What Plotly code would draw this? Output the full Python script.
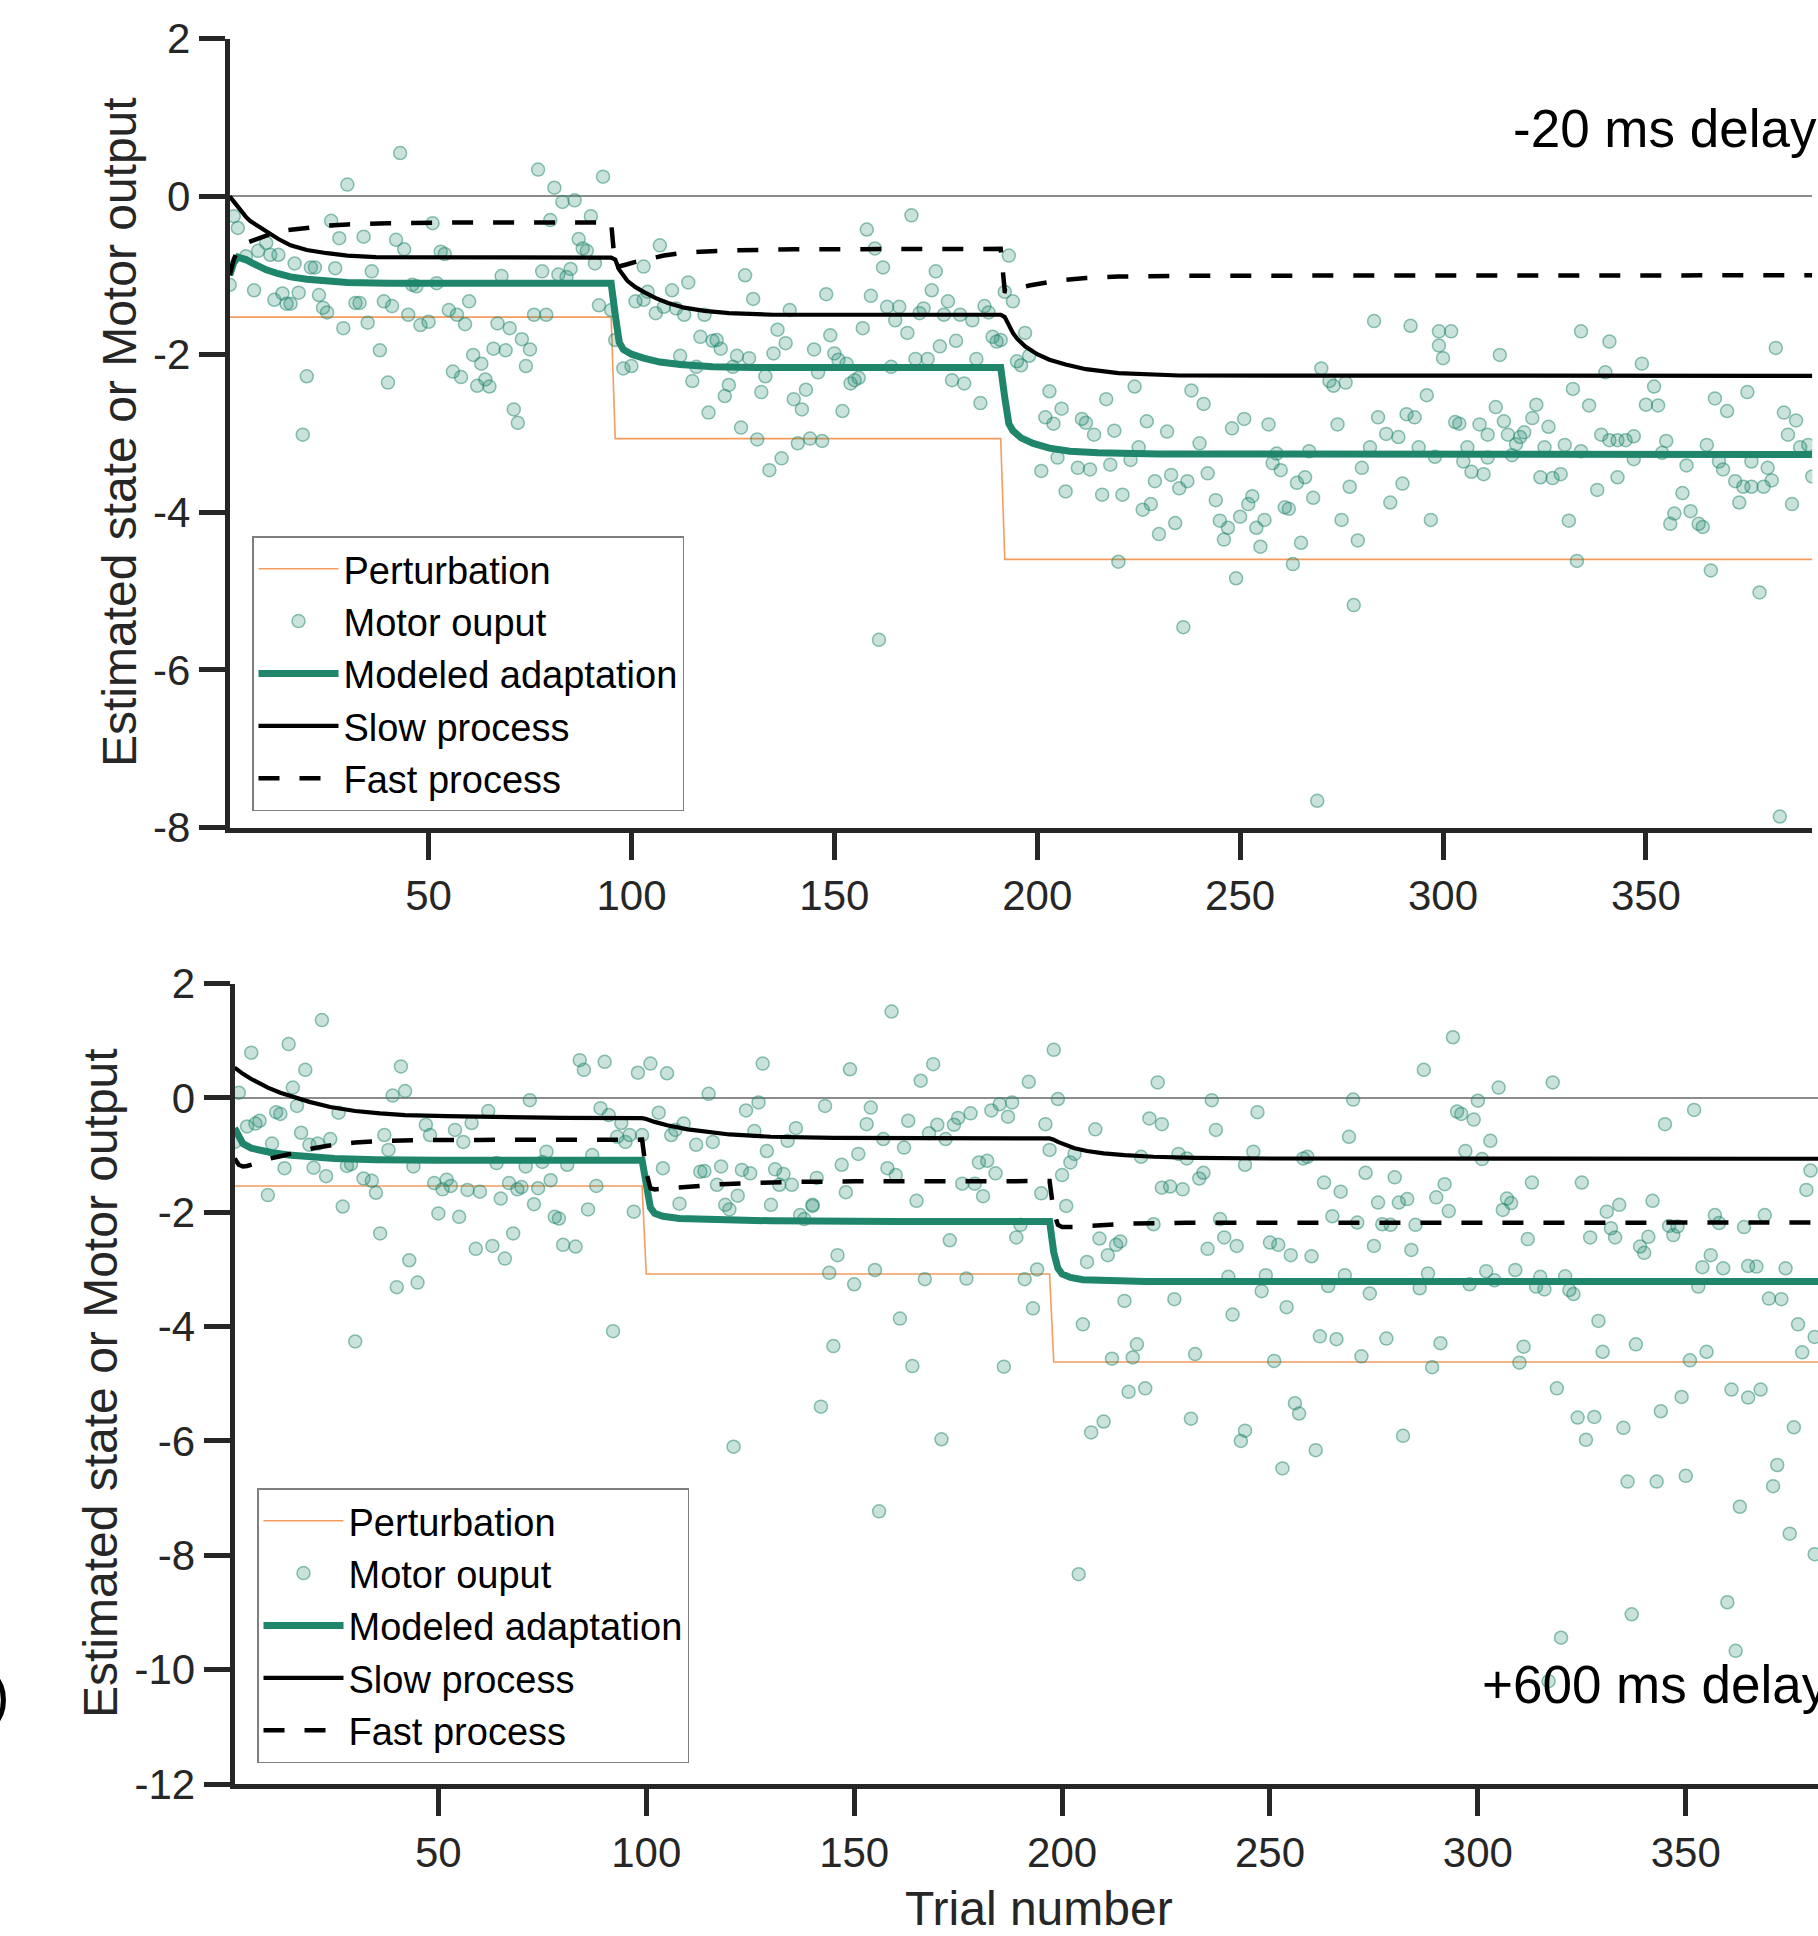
import plotly.graph_objects as go

W, H = 1818, 1936

# ---------------- TOP PANEL (-20 ms delay) ----------------
TOP_PERT_T = [1, 95, 96, 191, 192, 391]
TOP_PERT_V = [-1.53, -1.53, -3.07, -3.07, -4.6, -4.6]

TOP_SLOW_T = [1, 2, 3, 4, 5, 6, 8, 10, 13, 16, 20, 25, 30, 37, 60, 95,
              96, 97, 99, 101, 103, 106, 109, 113, 118, 124, 135, 191,
              192, 193, 194, 195, 197, 200, 203, 207, 212, 220, 235, 391]
TOP_SLOW_V = [0.0, -0.07, -0.14, -0.2, -0.26, -0.31, -0.38, -0.44, -0.54, -0.62, -0.68, -0.72, -0.75, -0.77, -0.775, -0.775,
              -0.8, -0.93, -1.07, -1.15, -1.21, -1.29, -1.35, -1.41, -1.45, -1.48, -1.5, -1.5,
              -1.53, -1.63, -1.73, -1.8, -1.9, -2.0, -2.07, -2.13, -2.19, -2.24, -2.27, -2.275]

TOP_FAST_T = [1, 2, 3, 4, 5, 6, 8, 11, 15, 20, 25, 30, 40, 60, 95,
              96, 97, 99, 101, 104, 108, 112, 117, 125, 140, 191,
              192, 193, 195, 198, 202, 206, 212, 220, 240, 391]
TOP_FAST_V = [-1.0, -0.8, -0.68, -0.62, -0.59, -0.57, -0.53, -0.48, -0.43, -0.4, -0.37, -0.355, -0.34, -0.33, -0.33,
              -0.9, -0.89, -0.86, -0.83, -0.79, -0.75, -0.72, -0.7, -0.685, -0.67, -0.665,
              -1.2, -1.21, -1.17, -1.13, -1.09, -1.06, -1.035, -1.015, -1.005, -1.0]

TOP_ADAPT_T = [1, 2, 3, 4, 5, 6, 8, 10, 13, 16, 20, 25, 30, 40, 95,
               96, 97, 98, 100, 103, 107, 112, 120, 130, 191,
               192, 193, 194, 196, 199, 203, 208, 215, 230, 391]
TOP_ADAPT_V = [-1.0, -0.84, -0.77, -0.78, -0.8, -0.83, -0.88, -0.93, -0.98, -1.02, -1.05, -1.07, -1.09, -1.1, -1.1,
               -1.5, -1.85, -1.94, -2.0, -2.05, -2.1, -2.13, -2.16, -2.17, -2.17,
               -2.55, -2.88, -2.97, -3.06, -3.13, -3.19, -3.23, -3.25, -3.265, -3.27]

TOP_MOTOR = [
    (43, 0.55), (30, 0.15), (77, 0.34), (81, 0.11), (83, -0.07), (86, -0.05), (93, 0.25), (90, -0.25), (80, -0.30),
    (51, -0.34), (26, -0.31), (87, -0.54), (88, -0.66), (89, -0.69), (91, -0.85), (85, -0.92), (82, -0.99), (84, -1.02),
    (78, -0.95), (68, -1.01), (53, -0.70), (54, -0.73), (42, -0.55), (44, -0.67), (34, -0.51), (28, -0.53), (2, -0.25),
    (3, -0.40), (1, -1.12), (5, -0.76), (8, -0.69), (10, -0.59), (11, -0.74), (13, -0.74), (17, -0.85), (21, -0.90),
    (22, -0.90), (27, -0.91), (7, -1.19), (12, -1.31), (14, -1.23), (15, -1.36), (16, -1.36), (18, -1.22), (23, -1.25),
    (24, -1.41), (25, -1.47), (29, -1.67), (32, -1.35), (33, -1.35), (35, -1.60), (36, -0.95), (39, -1.33), (41, -1.39),
    (45, -1.50), (46, -1.12), (47, -1.14), (48, -1.63), (50, -1.59), (52, -1.10), (55, -1.44), (57, -1.50), (59, -1.62),
    (60, -1.33), (67, -1.61), (70, -1.67), (73, -1.81), (75, -1.94), (76, -1.50), (79, -1.50), (38, -1.95), (20, -2.28),
    (40, -2.36), (61, -2.01), (63, -2.12), (66, -1.93), (69, -1.95), (56, -2.22), (58, -2.29), (62, -2.40), (64, -2.32),
    (65, -2.41), (74, -2.15), (71, -2.70), (72, -2.87), (19, -3.02), (92, -1.38), (95, -1.44), (96, -1.82), (98, -2.18),
    (100, -2.15), (101, -1.33), (103, -1.31), (103, -0.89),
    (107, -0.62), (114, -1.09), (128, -1.00), (130, -1.30), (148, -1.24), (158, -0.42), (169, -0.24), (160, -0.66),
    (162, -0.90), (159, -1.26), (175, -0.95), (174, -1.19), (178, -1.33), (193, -0.75), (192, -1.21), (194, -1.33),
    (197, -1.73), (195, -2.09), (196, -2.14), (104, -1.21), (106, -1.48), (108, -1.40), (110, -1.19), (111, -1.42),
    (113, -1.50), (118, -1.50), (117, -1.78), (115, -2.34), (119, -2.74), (120, -1.83), (121, -1.82), (122, -1.93),
    (124, -2.39), (123, -2.53), (126, -2.02), (129, -2.05), (125, -2.16), (133, -2.28), (132, -2.48), (127, -2.93),
    (131, -3.08), (135, -1.99), (136, -1.69), (138, -1.86), (139, -1.44), (140, -2.57), (142, -2.70), (143, -2.45),
    (141, -3.13), (144, -3.07), (147, -3.10), (145, -1.94), (146, -2.23), (149, -1.76), (150, -1.99), (151, -2.07),
    (153, -2.12), (152, -2.72), (154, -2.37), (155, -2.33), (156, -2.30), (157, -1.67), (163, -1.40), (165, -1.57),
    (166, -1.40), (168, -1.73), (170, -2.06), (173, -2.06), (171, -1.48), (172, -1.42), (176, -1.90), (177, -1.50),
    (181, -1.50), (179, -2.33), (182, -2.37), (180, -1.83), (184, -1.57), (185, -2.06), (186, -2.62), (187, -1.39),
    (188, -1.47), (189, -1.78), (190, -1.84), (191, -1.82), (164, -2.16), (116, -2.16), (112, -2.02),
    (134, -3.47), (137, -3.32), (161, -5.62),
    (198, -2.02), (283, -1.58), (292, -1.64), (299, -1.71), (302, -1.71), (299, -1.89), (300, -2.05), (314, -2.01),
    (334, -1.71), (341, -1.84), (349, -2.12), (340, -2.23), (382, -1.92), (270, -2.18), (272, -2.34), (273, -2.40),
    (276, -2.36), (203, -2.47), (332, -2.44), (352, -2.41), (296, -2.52), (367, -2.56), (375, -2.48),
    (206, -2.69), (202, -2.80), (204, -2.88), (211, -2.82), (212, -2.87), (214, -3.02), (217, -2.57), (219, -2.97),
    (224, -2.41), (227, -2.85), (232, -2.98), (238, -2.46), (241, -2.63), (240, -3.13), (248, -2.94), (251, -2.82),
    (257, -2.89), (259, -3.26), (267, -3.23), (274, -2.89), (282, -3.18), (284, -2.80), (286, -3.01), (289, -3.05),
    (291, -2.76), (293, -2.80), (294, -3.18), (298, -3.30), (303, -2.86), (304, -2.88), (306, -3.18), (309, -2.89),
    (311, -3.02), (313, -2.67), (315, -2.85), (316, -3.02), (318, -3.14), (319, -3.05), (320, -2.99), (322, -2.81),
    (323, -2.64), (325, -3.18), (326, -2.92), (330, -3.15), (334, -3.23), (336, -2.65), (339, -3.02), (341, -3.09),
    (343, -3.09), (345, -3.09), (347, -3.04), (350, -2.64), (353, -2.65), (354, -3.25), (355, -3.10), (360, -3.41),
    (365, -3.15), (370, -2.72), (376, -3.36), (380, -3.44), (384, -2.74), (385, -3.02), (387, -2.84), (388, -3.18),
    (390, -3.15),
    (201, -3.48), (205, -3.31), (210, -3.44), (213, -3.46), (207, -3.74), (216, -3.78), (221, -3.78), (218, -3.40),
    (223, -3.34), (225, -3.18), (226, -3.97), (228, -3.90), (230, -4.28), (229, -3.61), (233, -3.53), (234, -4.14),
    (235, -3.70), (237, -3.61), (220, -4.63), (236, -5.46), (242, -3.51), (244, -3.85), (245, -4.11), (247, -4.20),
    (246, -4.35), (250, -4.06), (249, -4.84), (252, -3.90), (253, -3.80), (254, -4.20), (256, -4.10), (255, -4.44),
    (258, -3.38), (260, -3.47), (261, -3.94), (262, -3.96), (264, -3.63), (266, -3.56), (265, -4.39), (263, -4.66),
    (268, -3.82), (277, -3.68), (279, -4.36), (275, -4.10), (278, -5.18), (269, -7.66), (280, -3.44), (287, -3.88),
    (290, -3.64), (297, -4.10), (307, -3.49), (310, -3.52), (311, -3.31), (305, -3.36), (317, -3.28), (324, -3.56),
    (327, -3.57), (329, -3.52), (331, -4.11), (333, -4.62), (338, -3.72), (343, -3.56), (347, -3.33), (356, -4.15),
    (357, -4.02), (361, -3.99), (363, -4.15), (364, -4.19), (359, -3.76), (366, -4.74), (368, -3.36), (369, -3.46),
    (372, -3.61), (374, -3.68), (376, -3.68), (379, -3.68), (373, -3.88), (378, -5.02), (381, -3.60), (386, -3.90),
    (391, -3.55), (383, -7.86),
]

# ---------------- BOTTOM PANEL (+600 ms delay) ----------------
BOT_PERT_T = [1, 99, 100, 197, 198, 395]
BOT_PERT_V = [-1.54, -1.54, -3.08, -3.08, -4.62, -4.62]

BOT_SLOW_T = [1, 2, 3, 5, 7, 9, 12, 15, 19, 24, 30, 36, 42, 52, 65, 80, 99,
              100, 102, 105, 110, 115, 120, 130, 145, 197,
              198, 199, 201, 203, 206, 210, 215, 222, 232, 250, 395]
BOT_SLOW_V = [0.53, 0.47, 0.42, 0.33, 0.25, 0.18, 0.09, 0.02, -0.07, -0.16, -0.23, -0.27, -0.3, -0.32, -0.34, -0.35, -0.355,
              -0.37, -0.42, -0.48, -0.55, -0.6, -0.64, -0.68, -0.7, -0.71,
              -0.73, -0.77, -0.83, -0.88, -0.93, -0.97, -1.0, -1.03, -1.05, -1.06, -1.065]

BOT_FAST_T = [1, 2, 3, 4, 6, 9, 12, 15, 20, 25, 30, 36, 45, 60, 99,
              100, 101, 102, 104, 108, 113, 118, 125, 135, 150, 197,
              198, 199, 200, 203, 206, 210, 216, 230, 395]
BOT_FAST_V = [-1.06, -1.17, -1.2, -1.19, -1.15, -1.07, -1.02, -0.97, -0.88, -0.82, -0.78, -0.755, -0.74, -0.735, -0.73,
              -1.3, -1.58, -1.6, -1.59, -1.56, -1.53, -1.51, -1.49, -1.47, -1.46, -1.455,
              -2.0, -2.22, -2.26, -2.26, -2.24, -2.22, -2.2, -2.185, -2.18]

BOT_ADAPT_T = [1, 2, 3, 5, 7, 10, 14, 20, 25, 35, 50, 99,
               100, 101, 102, 104, 108, 115, 130, 160, 197,
               198, 199, 200, 202, 205, 210, 220, 395]
BOT_ADAPT_V = [-0.53, -0.7, -0.8, -0.88, -0.92, -0.96, -1.0, -1.04, -1.06, -1.08, -1.09, -1.09,
               -1.6, -1.92, -2.02, -2.07, -2.11, -2.13, -2.15, -2.16, -2.16,
               -2.7, -2.98, -3.08, -3.14, -3.18, -3.2, -3.21, -3.21]

BOT_MOTOR = [
    (22, 1.36), (5, 0.79), (14, 0.94), (18, 0.49), (15, 0.18), (41, 0.55), (39, 0.04), (42, 0.12), (2, 0.09),
    (4, -0.50), (6, -0.45), (7, -0.40), (1, -0.77), (10, -0.80), (11, -0.25), (12, -0.28), (16, -0.14), (13, -1.23),
    (17, -0.61), (19, -0.82), (21, -0.80), (20, -1.22), (23, -1.37), (24, -0.72), (26, -0.26), (27, -1.90), (9, -1.70),
    (28, -1.19), (29, -1.16), (32, -1.41), (34, -1.45), (35, -1.66), (37, -0.65), (38, -0.91), (36, -2.37), (43, -2.84),
    (40, -3.31), (45, -3.23), (30, -4.26), (44, -1.20), (47, -0.47), (48, -0.65), (49, -1.49), (52, -1.43), (51, -1.60),
    (53, -1.54), (54, -0.56), (56, -0.77), (58, -0.44), (50, -2.02), (55, -2.08), (57, -1.61), (60, -1.64), (59, -2.64),
    (63, -2.59), (62, -0.23), (64, -1.14), (66, -2.81), (65, -1.76), (67, -1.49), (69, -1.60), (70, -1.56), (68, -2.37),
    (72, -0.04), (71, -1.20), (73, -1.86), (74, -1.58), (76, -0.94), (75, -1.12), (77, -1.44), (78, -2.08), (79, -2.11),
    (80, -2.57), (83, -2.60), (81, -1.17), (84, 0.66), (85, 0.49), (86, -1.95), (87, -1.00), (88, -1.54), (89, -0.18),
    (91, -0.30), (90, 0.63), (92, -4.08), (94, -0.44), (93, -0.68), (95, -0.77), (96, -0.65), (97, -1.99), (98, 0.44),
    (101, 0.60), (105, 0.43), (99, -0.65), (103, -0.26), (104, -1.23), (106, -0.65), (107, -0.56), (109, -0.45),
    (108, -1.85), (112, -0.82), (113, -1.29),
    (159, 1.51), (198, 0.84), (223, 0.27), (128, 0.60), (149, 0.50), (169, 0.59), (166, 0.30), (192, 0.28), (115, 0.07),
    (127, -0.08), (124, -0.22), (143, -0.14), (154, -0.17), (183, -0.22), (185, -0.11), (188, -0.08), (199, -0.02),
    (236, -0.04), (178, -0.27), (175, -0.35), (187, -0.33), (196, -0.46), (163, -0.40), (153, -0.46), (170, -0.47),
    (168, -0.62), (174, -0.47), (208, -0.55), (221, -0.36), (224, -0.46), (237, -0.56), (126, -0.58), (136, -0.53),
    (134, -0.75), (116, -0.77), (129, -0.93), (151, -0.98), (162, -0.87), (157, -0.72), (172, -0.72), (197, -0.91),
    (203, -0.98), (202, -1.13), (200, -1.35), (219, -1.03), (228, -0.98), (230, -1.06), (244, -1.17), (114, -1.28),
    (118, -1.20), (123, -1.26), (125, -1.32), (131, -1.25), (133, -1.33), (135, -1.52), (132, -1.52), (141, -1.40),
    (147, -1.17), (158, -1.23), (160, -1.35), (176, -1.50), (179, -1.50), (180, -1.13), (182, -1.10), (184, -1.32),
    (117, -1.52), (122, -1.71), (148, -1.65), (165, -1.80), (181, -1.72), (195, -1.67), (201, -1.89), (224, -1.57),
    (226, -1.55), (229, -1.60), (233, -1.41), (234, -1.31), (222, -2.21), (119, -1.87), (120, -1.95), (130, -1.87),
    (137, -2.05), (138, -2.12), (140, -1.87), (140, -1.89), (238, -2.12), (239, -2.44), (242, -2.59), (190, -2.22),
    (189, -2.44), (173, -2.49), (209, -2.46), (211, -2.75), (213, -2.57), (214, -2.51), (206, -2.87), (235, -2.64),
    (146, -2.75), (144, -3.06), (150, -3.26), (155, -3.01), (167, -3.17), (177, -3.16), (191, -3.17), (194, -3.00),
    (193, -3.68), (161, -3.86), (205, -3.96), (215, -3.55), (227, -3.52), (241, -3.79), (145, -4.34), (164, -4.69),
    (186, -4.70), (212, -4.56), (217, -4.54), (218, -4.31), (232, -4.48), (216, -5.14), (220, -5.08), (240, -3.13),
    (294, 1.06), (287, 0.49), (318, 0.27), (305, 0.18), (270, -0.03), (300, -0.05), (247, -0.25), (295, -0.24),
    (296, -0.28), (299, -0.38), (352, -0.21), (345, -0.46), (269, -0.68), (303, -0.75), (297, -0.93), (301, -1.07),
    (258, -1.06), (259, -1.03), (246, -0.94), (380, -1.27), (379, -1.61), (273, -1.31), (280, -1.39), (263, -1.48),
    (267, -1.64), (292, -1.51), (313, -1.48), (325, -1.48), (290, -1.74), (276, -1.83), (281, -1.83), (283, -1.77),
    (293, -1.98), (307, -1.76), (308, -1.84), (306, -1.96), (331, -1.99), (334, -1.87), (342, -1.80), (357, -2.05),
    (358, -2.19), (369, -2.05), (265, -2.07), (271, -2.18), (277, -2.21), (279, -2.22), (285, -2.22), (332, -2.28),
    (333, -2.44), (346, -2.24), (348, -2.25), (347, -2.40), (364, -2.26), (250, -2.53), (252, -2.57), (255, -2.75),
    (260, -2.77), (275, -2.59), (284, -2.66), (312, -2.47), (327, -2.44), (339, -2.60), (340, -2.71), (341, -2.43),
    (356, -2.75), (354, -2.96), (359, -2.98), (365, -2.94), (367, -2.95), (374, -2.98), (264, -3.29), (268, -3.10),
    (274, -3.42), (248, -3.38), (249, -3.10), (288, -3.07), (286, -3.33), (298, -3.26), (302, -3.03), (304, -3.19),
    (309, -3.01), (315, -3.13), (314, -3.30), (316, -3.35), (321, -3.12), (322, -3.36), (323, -3.43), (353, -3.30),
    (370, -3.51), (373, -3.52), (377, -3.96), (381, -4.18), (254, -3.66), (329, -3.90), (262, -4.17), (266, -4.22),
    (278, -4.21), (291, -4.29), (311, -4.35), (330, -4.44), (338, -4.31), (355, -4.44), (378, -4.45), (251, -4.60),
    (272, -4.52), (289, -4.71), (310, -4.63), (351, -4.59), (319, -5.08), (361, -5.10), (368, -5.10), (365, -5.24),
    (349, -5.23), (256, -5.34), (257, -5.52), (324, -5.59), (328, -5.58), (344, -5.48), (335, -5.77), (282, -5.91),
    (326, -5.98), (376, -5.76), (261, -6.16), (244, -5.82), (243, -6.00),
    (171, -5.97), (204, -8.33), (207, -5.85), (210, -5.66), (231, -5.61), (253, -6.48), (336, -6.71), (343, -6.71),
    (350, -6.61), (372, -6.42), (371, -6.79), (363, -7.15), (375, -7.62), (381, -7.98), (337, -9.03), (320, -9.44),
    (360, -8.82), (362, -9.67), (317, -10.2), (121, -6.10), (142, -5.40), (156, -7.23),
]

TOP_YTICKS = [2, 0, -2, -4, -6, -8]
BOT_YTICKS = [2, 0, -2, -4, -6, -8, -10, -12]
XTICKS = [50, 100, 150, 200, 250, 300, 350]
LEGEND_NAMES = ["Perturbation", "Motor ouput", "Modeled adaptation", "Slow process", "Fast process"]

# ---------------- styling ----------------
GREEN = "#1f856b"
ORANGE = "#f39c5e"
AXC = "#262626"
FONT = "Liberation Sans, Arial, Helvetica, sans-serif"


def px_x(p):
    return p / W


def px_y(p):
    return 1 - p / H


fig = go.Figure()


def add_panel(xa, ya, leg, pert_t, pert_v, motor, ad_t, ad_v, sl_t, sl_v, fa_t, fa_v):
    fig.add_trace(go.Scatter(x=pert_t, y=pert_v, mode="lines", name=LEGEND_NAMES[0],
                             line=dict(color=ORANGE, width=1.6), xaxis=xa, yaxis=ya, legend=leg))
    fig.add_trace(go.Scatter(x=[p[0] for p in motor], y=[p[1] for p in motor], mode="markers",
                             name=LEGEND_NAMES[1],
                             marker=dict(size=13, color="rgba(31,133,107,0.24)",
                                         line=dict(color="rgba(31,133,107,0.5)", width=1.5)),
                             xaxis=xa, yaxis=ya, legend=leg))
    fig.add_trace(go.Scatter(x=ad_t, y=ad_v, mode="lines", name=LEGEND_NAMES[2],
                             line=dict(color=GREEN, width=7), xaxis=xa, yaxis=ya, legend=leg))
    fig.add_trace(go.Scatter(x=sl_t, y=sl_v, mode="lines", name=LEGEND_NAMES[3],
                             line=dict(color="black", width=4.2), xaxis=xa, yaxis=ya, legend=leg))
    fig.add_trace(go.Scatter(x=fa_t, y=fa_v, mode="lines", name=LEGEND_NAMES[4],
                             line=dict(color="black", width=4.5, dash="21px,20px"),
                             xaxis=xa, yaxis=ya, legend=leg))


add_panel("x", "y", "legend", TOP_PERT_T, TOP_PERT_V, TOP_MOTOR, TOP_ADAPT_T, TOP_ADAPT_V,
          TOP_SLOW_T, TOP_SLOW_V, TOP_FAST_T, TOP_FAST_V)
add_panel("x2", "y2", "legend2", BOT_PERT_T, BOT_PERT_V, BOT_MOTOR, BOT_ADAPT_T, BOT_ADAPT_V,
          BOT_SLOW_T, BOT_SLOW_V, BOT_FAST_T, BOT_FAST_V)

tickfont = dict(family=FONT, size=42, color=AXC)
common_x = dict(showgrid=False, zeroline=False, showline=True, linecolor=AXC, linewidth=5,
                ticks="outside", ticklen=27, tickwidth=5, tickcolor=AXC, tickfont=tickfont,
                tickvals=XTICKS, ticktext=[str(v) for v in XTICKS], ticklabelstandoff=0,
                automargin=False)
common_y = dict(showgrid=False, zeroline=True, zerolinecolor="#8c8c8c", zerolinewidth=1.5,
                showline=True, linecolor=AXC, linewidth=5,
                ticks="outside", ticklen=26, tickwidth=5, tickcolor=AXC, tickfont=tickfont,
                ticklabelstandoff=0, automargin=False)

legend_common = dict(xanchor="left", yanchor="top", bgcolor="white", bordercolor="#7f7f7f",
                     borderwidth=1.5, font=dict(family=FONT, size=38, color="black"),
                     itemwidth=80, tracegroupgap=0)

fig.update_layout(
    width=W, height=H, margin=dict(l=0, r=0, t=0, b=0, pad=0, autoexpand=False),
    paper_bgcolor="white", plot_bgcolor="white", showlegend=True,
    xaxis=dict(domain=[px_x(229.7), px_x(1812.3)], range=[1, 391], anchor="y", **common_x),
    yaxis=dict(domain=[px_y(827.6), px_y(38.6)], range=[-8, 2], tickvals=TOP_YTICKS,
               ticktext=[str(v) for v in TOP_YTICKS], anchor="x", **common_y),
    xaxis2=dict(domain=[px_x(234.6), 1.0], range=[1, 381.8], anchor="y2", **common_x),
    yaxis2=dict(domain=[px_y(1784.1), px_y(983.5)], range=[-12, 2], tickvals=BOT_YTICKS,
                ticktext=[str(v) for v in BOT_YTICKS], anchor="x2", **common_y),
    legend=dict(x=px_x(252), y=px_y(536), **legend_common),
    legend2=dict(x=px_x(257), y=px_y(1488), **legend_common),
)

ann_font = dict(family=FONT, size=48, color=AXC)
fig.add_annotation(text="Estimated state or Motor output", textangle=-90, xref="paper", yref="paper",
                   x=px_x(119), y=px_y(432), xanchor="center", yanchor="middle", showarrow=False, font=ann_font)
fig.add_annotation(text="Estimated state or Motor output", textangle=-90, xref="paper", yref="paper",
                   x=px_x(100), y=px_y(1383), xanchor="center", yanchor="middle", showarrow=False, font=ann_font)
fig.add_annotation(text="Trial number", xref="paper", yref="paper", x=px_x(1039), y=px_y(1908),
                   xanchor="center", yanchor="middle", showarrow=False, font=ann_font)
fig.add_annotation(text="-20 ms delay", xref="paper", yref="paper", x=px_x(1511), y=px_y(128),
                   xanchor="left", yanchor="middle", showarrow=False,
                   font=dict(family=FONT, size=53, color="black"))
fig.add_annotation(text="+600 ms delay", xref="paper", yref="paper", x=px_x(1480), y=px_y(1684),
                   xanchor="left", yanchor="middle", showarrow=False,
                   font=dict(family=FONT, size=53, color="black"))
fig.add_annotation(text="b)", xref="paper", yref="paper", x=px_x(12), y=px_y(1694),
                   xanchor="right", yanchor="middle", showarrow=False,
                   font=dict(family=FONT, size=58, color="black"))

fig.write_html("out.html", include_plotlyjs=True, full_html=True,
               config={"displayModeBar": False},
               post_script="document.body.style.margin='0';document.body.style.overflow='hidden';")
